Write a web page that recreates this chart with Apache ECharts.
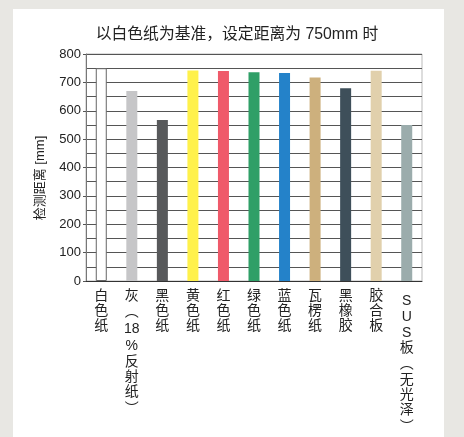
<!DOCTYPE html>
<html><head><meta charset="utf-8">
<script src="https://cdn.jsdelivr.net/npm/echarts@6/dist/echarts.min.js"></script>
<style>html,body{margin:0;padding:0;background:#e8e7e3}#c{width:464px;height:437px}</style>
</head><body><div id="c"></div>
<script>
const titleText = '以白色纸为基准，设定距离为 750mm 时';
const yAxisName = '检测距离 [mm]';
const categories = ['白色纸','灰（18%反射纸）','黑色纸','黄色纸','红色纸','绿色纸','蓝色纸','瓦楞纸','黑橡胶','胶合板','SUS板（无光泽）'];
const distances = [750, 670, 567, 742, 740, 736, 733, 717, 679, 741, 550];
const barColors = ['#ffffff','#c6c6c8','#58595b','#fff14b','#ef5a6a','#2f9f67','#2482c9','#cdb07d','#3e4f5a','#e1d0ac','#9bacac'];
const yTicks = [0,100,200,300,400,500,600,700,800];

const FONT = "'Liberation Sans','Noto Sans CJK SC',sans-serif";
const chart = echarts.init(document.getElementById('c'));

function vert(s){
  const toks = s.match(/[0-9]+|./g);
  const lines = toks.map(t=>{
    if(t==='（') return '{q|︵}';
    if(t==='）') return '{r|︶}';
    if(/^[0-9]+$/.test(t)) return '{d|'+t+'}';
    if(t==='%') return '{p|'+t+'}';
    if(/[A-Za-z]/.test(t)) return '{l|'+t+'}';
    return '{c|'+t+'}';
  });
  if(/^[A-Za-z]/.test(s)) lines.unshift('{s|\u200b}');
  return lines.join('\n');
}
const base = {fontSize:14,fontFamily:FONT,color:'#222',verticalAlign:'middle',align:'center'};

chart.setOption({
  backgroundColor:'#e8e7e3',
  animation:false,
  graphic:[
    {type:'rect',z:-10,shape:{x:13,y:9,width:431,height:428},style:{fill:'#ffffff'}},
    {type:'text',x:40,y:178,rotation:Math.PI/2,style:{text:yAxisName,font:'13px '+FONT,fill:'#222',textAlign:'center',textVerticalAlign:'middle'}}
  ],
  title:{text:titleText,left:232,top:22,textAlign:'center',textStyle:{fontSize:15.8,fontWeight:'normal',color:'#222',fontFamily:FONT}},
  grid:{left:86,right:42,top:54,bottom:156,show:true,borderColor:'#bbbbbb',borderWidth:1,backgroundColor:'transparent'},
  xAxis:{type:'category',data:categories,
    axisLine:{lineStyle:{color:'#333',width:1}},
    axisTick:{show:false},
    axisLabel:{interval:0,margin:8,verticalAlign:'top',color:'#222',formatter:vert,
      rich:{
        c:Object.assign({lineHeight:15},base),
        l:Object.assign({lineHeight:16},base),
        d:Object.assign({lineHeight:18},base),
        p:Object.assign({lineHeight:16},base),
        q:Object.assign({lineHeight:16.5},base),
        r:Object.assign({lineHeight:20},base),
        s:Object.assign({lineHeight:4,fontSize:4},base)
      }}
  },
  yAxis:{type:'value',min:0,max:800,interval:100,
    axisLine:{show:true,lineStyle:{color:'#777'}},
    axisTick:{show:true,length:3,lineStyle:{color:'#555'}},
    axisLabel:{color:'#222',fontSize:13,fontFamily:FONT,margin:5,
      formatter:v=>yTicks.includes(v)?String(v):''},
    splitLine:{show:true,lineStyle:{color:'#555',width:1}},
    minorTick:{show:false,splitNumber:2},
    minorSplitLine:{show:true,lineStyle:{color:'#555',width:1}}
  },
  series:[{type:'bar',barWidth:11,
    data:distances.map((v,i)=>({value:v,itemStyle:{color:barColors[i],borderColor:i===0?'#666':'rgba(255,255,255,0.35)',borderWidth:i===0?1:0}}))
  }]
});
</script></body></html>
